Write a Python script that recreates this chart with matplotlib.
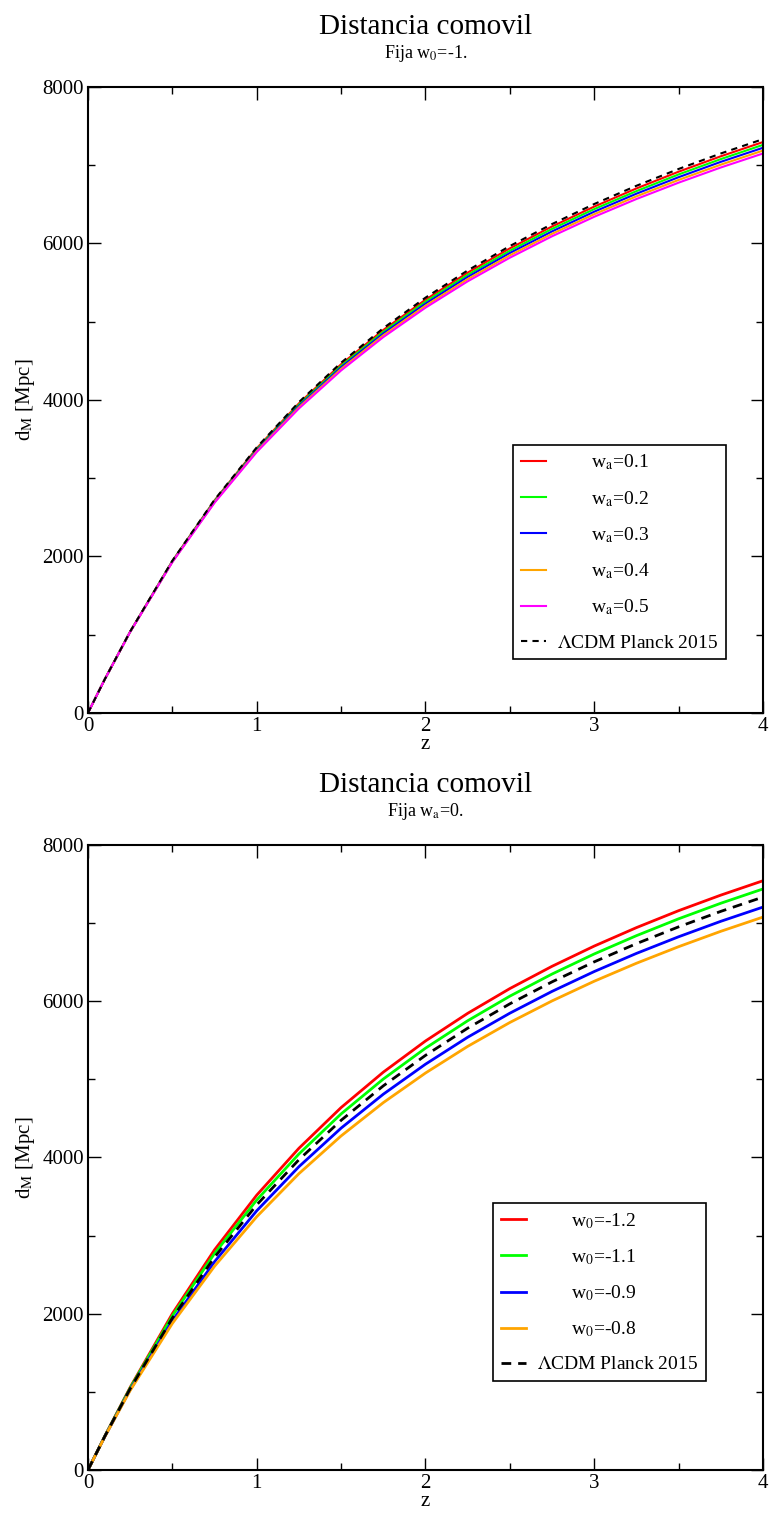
import matplotlib
matplotlib.use('Agg')
import matplotlib.pyplot as plt
from matplotlib.ticker import MultipleLocator

plt.rcParams['font.family'] = ['Liberation Serif', 'DejaVu Serif']
plt.rcParams['mathtext.fontset'] = 'stix'

# Datos: z y distancia comovil [Mpc]
z = [0, 0.1, 0.25, 0.5, 0.75, 1, 1.25, 1.5, 1.75, 2, 2.25, 2.5, 2.75, 3, 3.25, 3.5, 3.75, 4]

lcdm = [0, 432, 1040, 1945, 2724, 3394, 3972, 4476, 4917, 5307, 5655, 5967, 6248, 6504, 6737, 6952, 7150, 7333]

# Panel superior: w0 = -1 fijo
wa_01 = [0, 432, 1039, 1941, 2716, 3382, 3956, 4456, 4894, 5281, 5627, 5937, 6217, 6471, 6703, 6917, 7114, 7296]
wa_02 = [0, 432, 1038, 1938, 2709, 3370, 3940, 4436, 4871, 5256, 5599, 5907, 6186, 6439, 6669, 6882, 7078, 7260]
wa_03 = [0, 431, 1037, 1934, 2701, 3358, 3923, 4417, 4849, 5230, 5572, 5878, 6154, 6406, 6636, 6847, 7043, 7223]
wa_04 = [0, 431, 1036, 1931, 2694, 3346, 3907, 4397, 4826, 5205, 5544, 5848, 6123, 6374, 6602, 6812, 7007, 7187]
wa_05 = [0, 431, 1035, 1927, 2686, 3334, 3891, 4377, 4803, 5179, 5516, 5818, 6092, 6341, 6568, 6777, 6971, 7150]

# Panel inferior: wa = 0 fijo
w0_m12 = [0, 436, 1058, 2001, 2818, 3518, 4118, 4639, 5092, 5491, 5845, 6162, 6447, 6706, 6942, 7159, 7358, 7542]
w0_m11 = [0, 434, 1049, 1973, 2771, 3456, 4045, 4558, 5004, 5399, 5750, 6065, 6348, 6605, 6839, 7055, 7254, 7437]
w0_m09 = [0, 429, 1029, 1911, 2666, 3318, 3882, 4376, 4810, 5194, 5539, 5847, 6126, 6380, 6612, 6825, 7023, 7205]
w0_m08 = [0, 427, 1018, 1876, 2608, 3242, 3793, 4276, 4702, 5081, 5422, 5728, 6004, 6256, 6486, 6698, 6895, 7077]

top_series = [wa_01, wa_02, wa_03, wa_04, wa_05]
top_labels = ['       w$_\\mathrm{a}$=0.1', '       w$_\\mathrm{a}$=0.2', '       w$_\\mathrm{a}$=0.3',
              '       w$_\\mathrm{a}$=0.4', '       w$_\\mathrm{a}$=0.5']
top_colors = ['#ff0000', '#00ff00', '#0000ff', '#ffa500', '#ff00ff']

bot_series = [w0_m12, w0_m11, w0_m09, w0_m08]
bot_labels = ['       w$_0$=-1.2', '       w$_0$=-1.1', '       w$_0$=-0.9', '       w$_0$=-0.8']
bot_colors = ['#ff0000', '#00ff00', '#0000ff', '#ffa500']

fig = plt.figure(figsize=(7.69, 15.23), dpi=100)

ax1 = fig.add_axes([0.1144, 0.5319, 0.8778, 0.4110])
ax2 = fig.add_axes([0.1144, 0.0348, 0.8778, 0.4104])


def style_axes(ax):
    ax.set_xlim(0, 4)
    ax.set_ylim(0, 8000)
    ax.xaxis.set_major_locator(MultipleLocator(1))
    ax.xaxis.set_minor_locator(MultipleLocator(0.5))
    ax.yaxis.set_major_locator(MultipleLocator(2000))
    ax.yaxis.set_minor_locator(MultipleLocator(1000))
    ax.tick_params(which='both', direction='in', top=True, right=True, width=1.0)
    ax.tick_params(which='major', length=9, labelsize=15, pad=3)
    ax.tick_params(which='minor', length=5)
    for s in ax.spines.values():
        s.set_linewidth(1.5)
    ax.set_xlabel('z', fontsize=15, labelpad=-1)
    ax.set_ylabel('d$_\\mathrm{M}$ [Mpc]', fontsize=15, labelpad=4)


def style_legend(ax, x, y):
    leg = ax.legend(loc='upper left', bbox_to_anchor=(x, y), fontsize=14, frameon=True,
                    fancybox=False, framealpha=1, edgecolor='black', handlelength=1.3,
                    labelspacing=0.85, borderpad=0.4, handletextpad=0.55, borderaxespad=0)
    leg.get_frame().set_linewidth(1.2)


# Panel superior
for serie, lab, col in zip(top_series, top_labels, top_colors):
    ax1.plot(z, serie, color=col, linewidth=1.5, label=lab)
ax1.plot(z, lcdm, color='black', linestyle=(0, (3, 2.5)), linewidth=1.5, label='$\\Lambda$CDM Planck 2015')
style_axes(ax1)
ax1.set_title('Fija w$_0$=-1.', fontsize=13, pad=21)
ax1.text(0.5, 1.075, 'Distancia comovil', transform=ax1.transAxes, ha='center', va='bottom', fontsize=21)
style_legend(ax1, 0.63, 0.428)

# Panel inferior
for serie, lab, col in zip(bot_series, bot_labels, bot_colors):
    ax2.plot(z, serie, color=col, linewidth=2, label=lab)
ax2.plot(z, lcdm, color='black', linestyle=(0, (3.5, 2.5)), linewidth=2, label='$\\Lambda$CDM Planck 2015')
style_axes(ax2)
ax2.set_title('Fija w$_\\mathrm{a}$=0.', fontsize=13, pad=21)
ax2.text(0.5, 1.075, 'Distancia comovil', transform=ax2.transAxes, ha='center', va='bottom', fontsize=21)
style_legend(ax2, 0.60, 0.427)

plt.savefig('out.png', dpi=100)
